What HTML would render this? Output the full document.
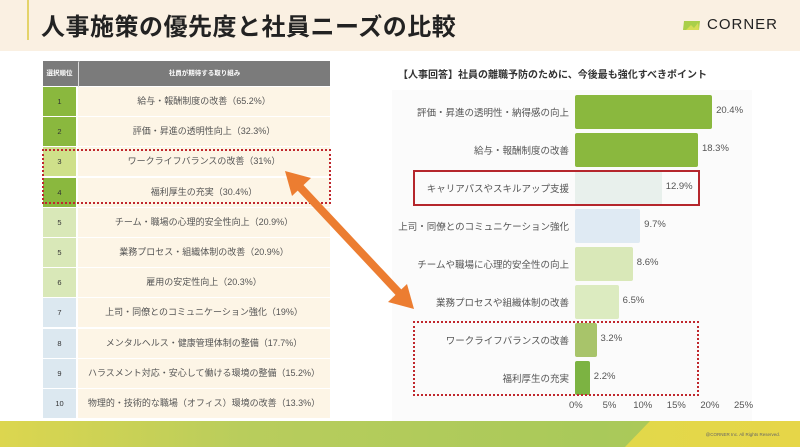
<!DOCTYPE html>
<html><head><meta charset="utf-8"><style>
*{margin:0;padding:0;box-sizing:border-box}
body{width:800px;height:447px;position:relative;overflow:hidden;background:#fff;font-family:"Liberation Sans","Noto Sans CJK JP",sans-serif;color:#555}
.hdr{position:absolute;left:0;top:0;width:800px;height:51px;background:#faf0e2}
.hdr .bar{position:absolute;left:27px;top:0;width:2px;height:40px;background:#e4d36a}
.hdr h1{position:absolute;left:41px;top:7px;font-size:24px;font-weight:bold;color:#222;letter-spacing:0.5px}
.logo{position:absolute;left:707px;top:16px;font-size:15px;color:#222;letter-spacing:1px}
.tbl{position:absolute;left:43px;top:61px;width:287px}
.row{position:absolute;left:0;width:287px;height:29px;font-size:9px;line-height:29px;text-align:center}
.row .r{position:absolute;left:0;top:0;width:33px;height:29px;color:#333;font-size:7.5px}
.row .c{position:absolute;left:35px;top:0;width:252px;height:29px;background:#fdf5e6;color:#555}
.hd{position:absolute;left:0;top:0;width:287px;height:25px;background:#7b7b7b;color:#fff;font-size:6.5px;line-height:25px;font-weight:bold}
.hd .a{position:absolute;left:0;width:33px;text-align:center}
.hd .b{position:absolute;left:35px;width:252px;text-align:center;border-left:1px solid #ddd}
.lbl{position:absolute;right:231px;font-size:9.5px;color:#555;text-align:right;white-space:nowrap}
.b{position:absolute;left:575px;height:34px;border-radius:2px}
.v{position:absolute;font-size:9.5px;color:#555}
.tk{position:absolute;top:400px;font-size:9.5px;color:#555}
</style></head><body>
<div class="hdr"><div class="bar"></div><h1>人事施策の優先度と社員ニーズの比較</h1>
<svg style="position:absolute;left:683px;top:21px" width="18" height="9"><path d="M1 0H17L16 9H0Z" fill="#a9cf4a"/><path d="M3 9L8 4L11 7L15 2L16 9Z" fill="#d6dd55"/></svg>
<div class="logo">CORNER</div></div>

<div class="tbl">
<div class="hd"><span class="a">選択順位</span><span class="b">社員が期待する取り組み</span></div>
</div>
<div id="rows"></div>
<div style="position:absolute;left:392px;top:90px;width:360px;height:332px;background:#fbfbfb"></div>
<div style="position:absolute;left:398px;top:66px;font-size:10px;color:#333;font-weight:bold">【人事回答】社員の離職予防のために、今後最も強化すべきポイント</div>
<div id="chart"></div>
<div style="position:absolute;left:42px;top:149px;width:289px;height:55px;border:2px dotted #c0272d"></div>
<div style="position:absolute;left:413px;top:170px;width:287px;height:36px;border:2px solid #b5262c"></div>
<div style="position:absolute;left:413px;top:321px;width:286px;height:75px;border:2px dotted #c0272d"></div>
<svg style="position:absolute;left:0;top:0" width="800" height="447"><g fill="#ec7d31">
<line x1="297" y1="184" x2="402" y2="296" stroke="#ec7d31" stroke-width="8"/>
<polygon points="285,171 311,178 292,196"/><polygon points="414,309 388,302 407,284"/></g></svg>
<div style="position:absolute;left:0;top:421px;width:800px;height:26px;background:linear-gradient(90deg,#dcd64f 0%,#b9cd5c 30%,#a9c95a 75%,#b3ca55 100%)"></div>
<div style="position:absolute;left:625px;top:421px;width:175px;height:26px;background:linear-gradient(90deg,#e2d84a,#e6d648);clip-path:polygon(25px 0,100% 0,100% 100%,0 100%)"></div>
<div style="position:absolute;right:20px;top:432px;font-size:4.5px;color:#666">@CORNER Inc. All Rights Reserved.</div>
<script>
var R=[["1","給与・報酬制度の改善（65.2%）","#8ab83e"],["2","評価・昇進の透明性向上（32.3%）","#8ab83e"],["3","ワークライフバランスの改善（31%）","#cfe08a"],["4","福利厚生の充実（30.4%）","#8ab83e"],["5","チーム・職場の心理的安全性向上（20.9%）","#d9e8b8"],["5","業務プロセス・組織体制の改善（20.9%）","#d9e8b8"],["6","雇用の安定性向上（20.3%）","#d9e8b8"],["7","上司・同僚とのコミュニケーション強化（19%）","#dce8f0"],["8","メンタルヘルス・健康管理体制の整備（17.7%）","#dce8f0"],["9","ハラスメント対応・安心して働ける環境の整備（15.2%）","#dce8f0"],["10","物理的・技術的な職場（オフィス）環境の改善（13.3%）","#dce8f0"]];
var h="";R.forEach(function(r,i){h+='<div class="row" style="left:43px;top:'+(87+i*30.2)+'px"><div class="r" style="background:'+r[2]+'">'+r[0]+'</div><div class="c">'+r[1]+'</div></div>'});
document.getElementById("rows").innerHTML=h;
var C=[["評価・昇進の透明性・納得感の向上",20.4,"#8ab83e"],["給与・報酬制度の改善",18.3,"#8ab83e"],["キャリアパスやスキルアップ支援",12.9,"#e8f0ec"],["上司・同僚とのコミュニケーション強化",9.7,"#dfeaf3"],["チームや職場に心理的安全性の向上",8.6,"#d9e8b8"],["業務プロセスや組織体制の改善",6.5,"#dcebc0"],["ワークライフバランスの改善",3.2,"#a8c46a"],["福利厚生の充実",2.2,"#7cb342"]];
h="";C.forEach(function(c,i){var y=95+i*38,w=c[1]*6.72;h+='<div class="b" style="top:'+y+'px;width:'+w+'px;background:'+c[2]+'"></div><div class="lbl" style="top:'+(y+10)+'px">'+c[0]+'</div><div class="v" style="left:'+(579+w)+'px;top:'+(y+10)+'px">'+c[1]+'%</div>'});
[0,5,10,15,20,25].forEach(function(t){h+='<div class="tk" style="left:'+(569+t*6.72-(t>=10?3:0))+'px">'+t+'%</div>'});
document.getElementById("chart").innerHTML=h;
</script>
</body></html>
